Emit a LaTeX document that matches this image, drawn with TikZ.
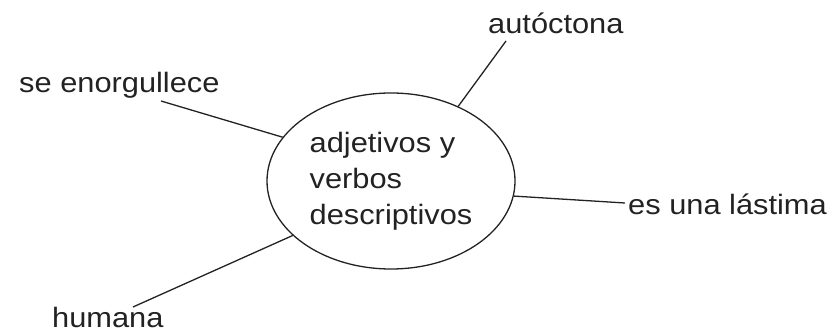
\documentclass[tikz,border=0pt]{standalone}
\usepackage{fontspec}
\setmainfont[FakeStretch=1.1]{Liberation Sans}
\usetikzlibrary{shapes.geometric}
\definecolor{ink}{HTML}{222222}
\tikzset{
  label/.style={font=\fontsize{28}{36}\selectfont, text=ink, inner sep=0pt},
  conn/.style={draw=ink, line width=1.3pt},
  hub/.style={ellipse, draw=ink, line width=1.3pt, minimum width=248pt, minimum height=176pt, inner sep=0pt, align=left, font=\fontsize{28}{36}\selectfont, text=ink}
}
\begin{document}
\begin{tikzpicture}[x=1pt,y=1pt]
\useasboundingbox (0,0) rectangle (834,334);
\node[hub] (e) at (391,153) {adjetivos y\\verbos\\descriptivos};
\node[label, anchor=base west] (se) at (19,241) {se enorgullece};
\node[label, anchor=base west] (au) at (488,300) {autóctona};
\node[label, anchor=base west] (es) at (628,119) {es una lástima};
\node[label, anchor=base west] (hu) at (52,6) {humana};
\coordinate (seEnd) at (161,233);
\coordinate (auEnd) at (506,293);
\coordinate (esEnd) at (625,131);
\coordinate (huEnd) at (133,27);
\draw[conn] (seEnd) -- (e.158.5);
\draw[conn] (auEnd) -- (e.48.7);
\draw[conn] (esEnd) -- (e.-7.8);
\draw[conn] (huEnd) -- (e.209.4);
\end{tikzpicture}
\end{document}
